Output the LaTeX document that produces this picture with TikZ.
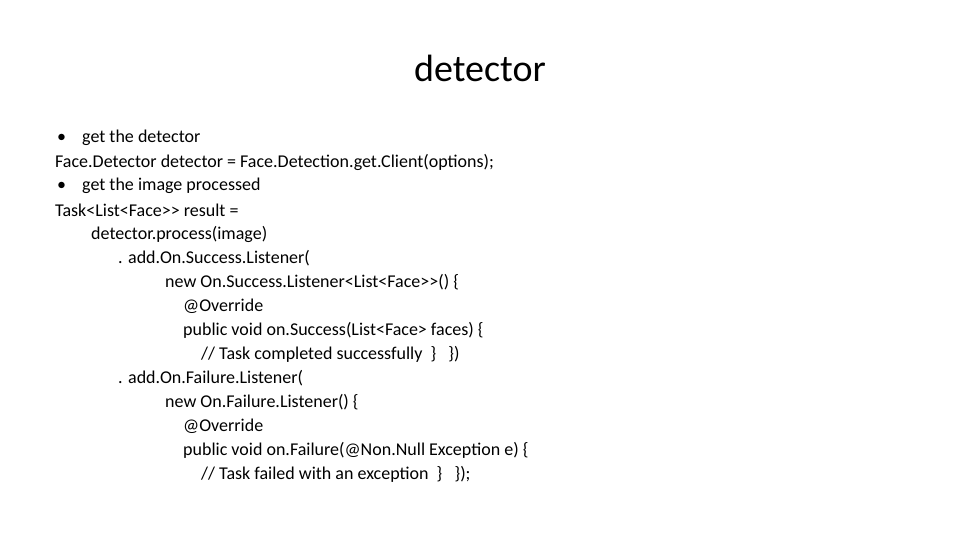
\documentclass[tikz,border=0pt]{standalone}
\usepackage{fontspec}
\setmainfont{Carlito}
\begin{document}
\begin{tikzpicture}[x=1pt,y=-1pt,line/.style={anchor=west,inner sep=0pt,font=\fontsize{18}{20}\selectfont}]
\useasboundingbox (0,0) rectangle (960,540);
\node[font=\fontsize{38}{40}\selectfont] (title) at (480,68) {detector};
\node[line] (b1) at (57,138) {\textbullet};
\node[line] (l1) at (82,138) {get the detector};
\node[line] (l2) at (55,162) {Face.Detector detector = Face.Detection.get.Client(options);};
\node[line] (b2) at (57,186) {\textbullet};
\node[line] (l3) at (82,186) {get the image processed};
\node[line] (l4) at (55,210) {Task<List<Face>{}> result =};
\node[line] (l5) at (91,234) {detector.process(image)};
\node[line] (l6) at (118,258) {. add.On.Success.Listener(};
\node[line] (l7) at (165,282) {new On.Success.Listener<List<Face>{}>() \{};
\node[line] (l8) at (183,306) {@Override};
\node[line] (l9) at (183,330) {public void on.Success(List<Face> faces) \{};
\node[line] (l10) at (201,354) {// Task completed successfully~~\}~~~\})};
\node[line] (l11) at (118,378) {. add.On.Failure.Listener(};
\node[line] (l12) at (165,402) {new On.Failure.Listener() \{};
\node[line] (l13) at (183,426) {@Override};
\node[line] (l14) at (183,450) {public void on.Failure(@Non.Null Exception e) \{};
\node[line] (l15) at (201,474) {// Task failed with an exception~~\}~~~\});};
\end{tikzpicture}
\end{document}
